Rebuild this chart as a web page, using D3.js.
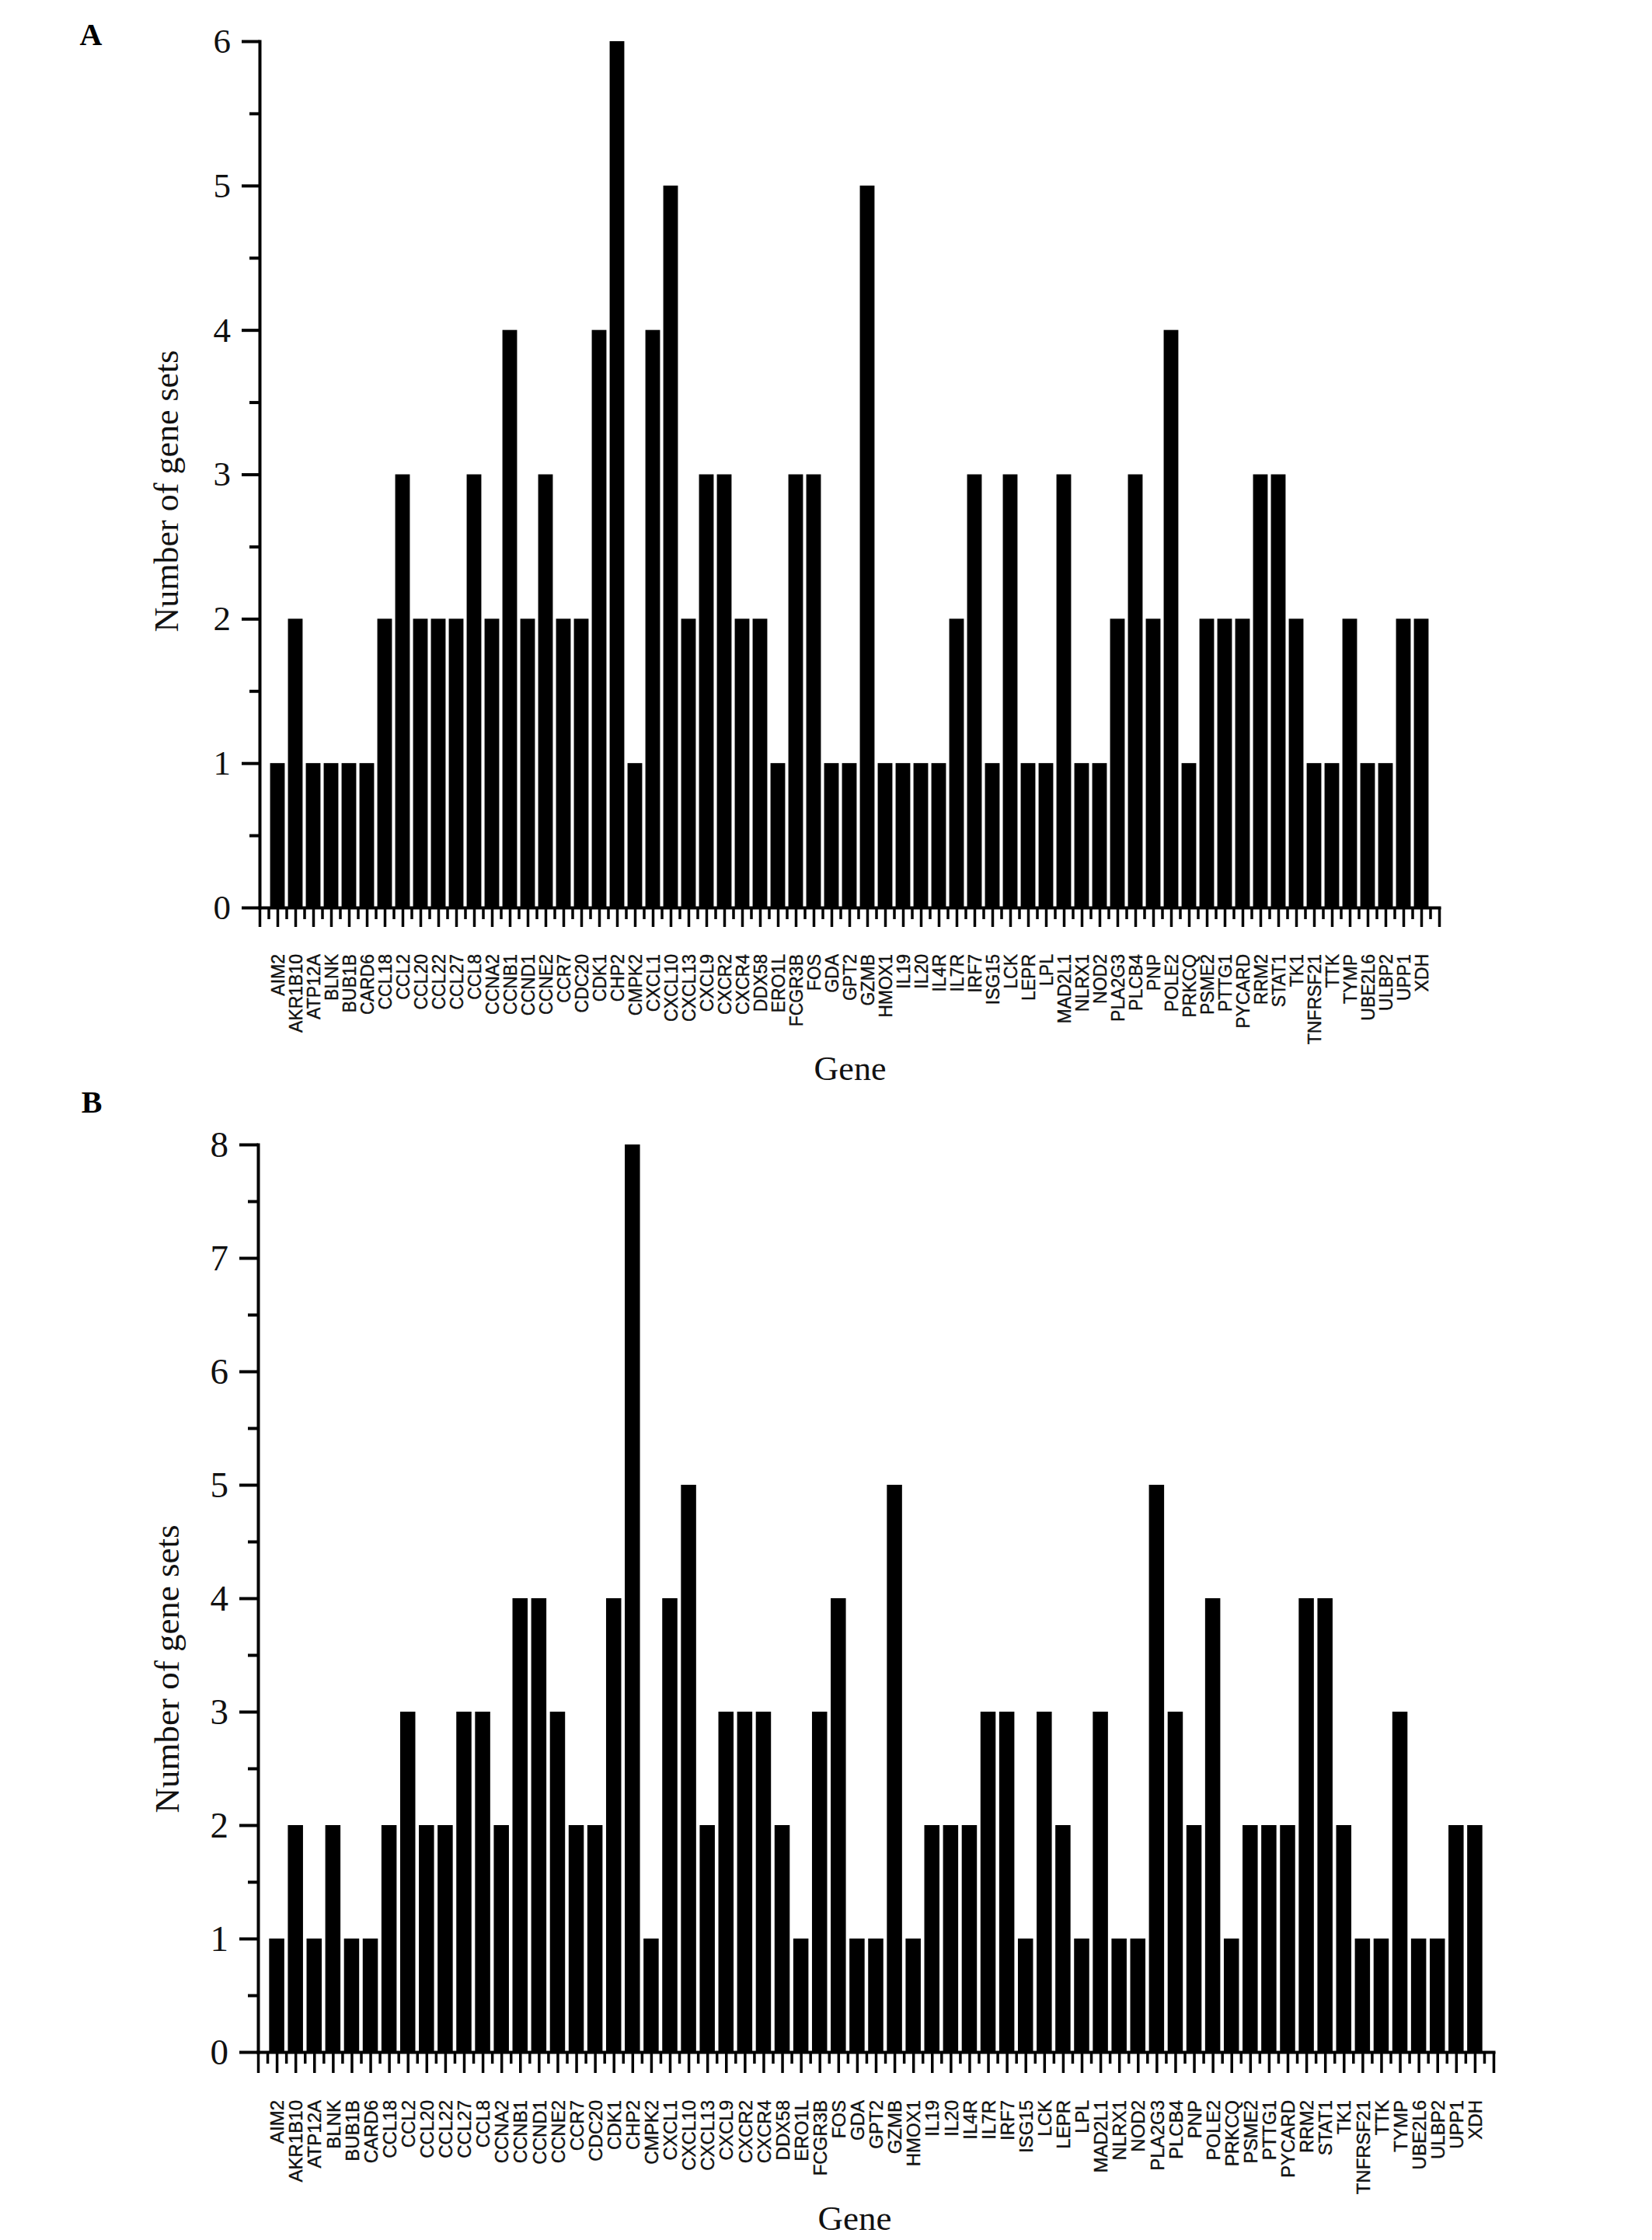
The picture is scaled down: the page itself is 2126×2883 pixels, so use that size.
<!DOCTYPE html>
<html>
<head>
<meta charset="utf-8">
<script src="https://cdn.jsdelivr.net/npm/d3@7"></script>
<style>
  html, body { margin: 0; padding: 0; background: #fff; }
  svg { display: block; }
</style>
</head>
<body>
<svg id="chart" width="2126" height="2883"></svg>
<script>
// ---------------- data ----------------
const genes = ["AIM2","AKR1B10","ATP12A","BLNK","BUB1B","CARD6","CCL18","CCL2","CCL20","CCL22",
  "CCL27","CCL8","CCNA2","CCNB1","CCND1","CCNE2","CCR7","CDC20","CDK1","CHP2",
  "CMPK2","CXCL1","CXCL10","CXCL13","CXCL9","CXCR2","CXCR4","DDX58","ERO1L","FCGR3B",
  "FOS","GDA","GPT2","GZMB","HMOX1","IL19","IL20","IL4R","IL7R","IRF7",
  "ISG15","LCK","LEPR","LPL","MAD2L1","NLRX1","NOD2","PLA2G3","PLCB4","PNP",
  "POLE2","PRKCQ","PSME2","PTTG1","PYCARD","RRM2","STAT1","TK1","TNFRSF21","TTK",
  "TYMP","UBE2L6","ULBP2","UPP1","XDH"];

const countsA = [1,2,1,1,1,1,2,3,2,2,
  2,3,2,4,2,3,2,2,4,6,
  1,4,5,2,3,3,2,2,1,3,
  3,1,1,5,1,1,1,1,2,3,
  1,3,1,1,3,1,1,2,3,2,
  4,1,2,2,2,3,3,2,1,1,
  2,1,1,2,2];

const countsB = [1,2,1,2,1,1,2,3,2,2,
  3,3,2,4,4,3,2,2,4,8,
  1,4,5,2,3,3,3,2,1,3,
  4,1,1,5,1,2,2,2,3,3,
  1,3,2,1,3,1,1,5,3,2,
  4,1,2,2,2,4,4,2,1,1,
  3,1,1,2,2];

const yTicksA = [0,1,2,3,4,5,6];
const yTicksB = [0,1,2,3,4,5,6,7,8];
const panelLabels = ["A","B"];
const xTitle = "Gene";
const yTitle = "Number of gene sets";

// ---------------- drawing ----------------
const svg = d3.select("#chart");
const serif = "'Liberation Serif','Times New Roman',Times,serif";
const sans = "'Liberation Sans',Arial,Helvetica,sans-serif";

function drawPanel(cfg) {
  const g = svg.append("g");
  const n = cfg.categories.length;

  const xLin = d3.scaleLinear().domain([0, n + 1]).range([cfg.x0, cfg.x1]);
  const xBand = d3.scaleBand().domain(cfg.categories)
    .range([xLin(0.5), xLin(n + 0.5)])
    .paddingInner(cfg.pad).paddingOuter(cfg.pad / 2);
  const yMax = cfg.yTicks[cfg.yTicks.length - 1];
  const y = d3.scaleLinear().domain([0, yMax]).range([cfg.yBot, cfg.yTop]);

  // bars
  g.append("g").selectAll("rect")
    .data(cfg.categories.map((c, i) => ({c, v: cfg.values[i]})))
    .join("rect")
    .attr("x", d => xBand(d.c))
    .attr("width", xBand.bandwidth())
    .attr("y", d => y(d.v))
    .attr("height", d => y(0) - y(d.v))
    .attr("fill", "#000");

  // x minor ticks
  const xMinor = d3.axisBottom(xLin)
    .tickValues(d3.range(0.5, n + 1, 1))
    .tickSize(cfg.xMinorLen).tickSizeOuter(0).tickFormat("");
  g.append("g").attr("transform", `translate(0,${cfg.yBot})`).call(xMinor)
    .call(s => s.select(".domain").remove())
    .call(s => s.selectAll("line").attr("stroke", "#000").attr("stroke-width", 3.5));

  // x major ticks with labels
  const xAxis = d3.axisBottom(xLin)
    .tickValues(d3.range(0, n + 2, 1))
    .tickSize(cfg.xMajorLen).tickSizeOuter(0)
    .tickFormat(d => (d >= 1 && d <= n) ? cfg.categories[d - 1] : "");
  const gx = g.append("g").attr("transform", `translate(0,${cfg.yBot})`).call(xAxis);
  gx.select(".domain").attr("stroke", "#000").attr("stroke-width", 4)
    .attr("stroke-linecap", "square");
  gx.selectAll("line").attr("stroke", "#000").attr("stroke-width", 3.5);
  gx.selectAll("text")
    .attr("transform", "rotate(-90)")
    .attr("text-anchor", "end")
    .attr("x", -cfg.labelOffset)
    .attr("y", 0)
    .attr("dy", "0.36em")
    .attr("font-family", sans)
    .attr("font-size", cfg.xLabelSize)
    .attr("fill", "#111")
    .attr("stroke", "#111").attr("stroke-width", 0.4);

  // y minor ticks
  const yMinor = d3.axisLeft(y)
    .tickValues(d3.range(0.5, yMax, 1))
    .tickSize(cfg.yMinorLen).tickSizeOuter(0).tickFormat("");
  g.append("g").attr("transform", `translate(${cfg.x0},0)`).call(yMinor)
    .call(s => s.select(".domain").remove())
    .call(s => s.selectAll("line").attr("stroke", "#000").attr("stroke-width", 4));

  // y major ticks
  const yAxis = d3.axisLeft(y).tickValues(cfg.yTicks)
    .tickSize(cfg.yMajorLen).tickSizeOuter(0).tickPadding(cfg.yPad)
    .tickFormat(d3.format("d"));
  const gy = g.append("g").attr("transform", `translate(${cfg.x0},0)`).call(yAxis);
  gy.select(".domain").attr("stroke", "#000").attr("stroke-width", 4)
    .attr("stroke-linecap", "square");
  gy.selectAll("line").attr("stroke", "#000").attr("stroke-width", 4);
  gy.selectAll("text")
    .attr("font-family", serif)
    .attr("font-size", cfg.yLabelSize)
    .attr("fill", "#111");

  // titles
  g.append("text")
    .attr("x", cfg.xTitleX).attr("y", cfg.xTitleY)
    .attr("text-anchor", "middle")
    .attr("font-family", serif).attr("font-size", cfg.titleSize)
    .attr("fill", "#111")
    .text(xTitle);
  g.append("text")
    .attr("transform", `translate(${cfg.yTitleX},${cfg.yTitleY}) rotate(-90)`)
    .attr("text-anchor", "middle")
    .attr("dy", "0.35em")
    .attr("font-family", serif).attr("font-size", cfg.titleSize)
    .attr("fill", "#111")
    .text(yTitle);

  // panel label
  g.append("text")
    .attr("x", cfg.panelX).attr("y", cfg.panelY)
    .attr("text-anchor", "middle")
    .attr("font-family", serif).attr("font-weight", "bold")
    .attr("font-size", 40)
    .attr("fill", "#000")
    .text(cfg.panel);
}

drawPanel({
  panel: panelLabels[0], categories: genes, values: countsA, yTicks: yTicksA,
  x0: 334, x1: 1852, yTop: 53, yBot: 1168, pad: 0.18,
  xMajorLen: 25, xMinorLen: 15, yMajorLen: 23, yMinorLen: 13, yPad: 14,
  labelOffset: 60, xLabelSize: 23, yLabelSize: 45, titleSize: 44,
  xTitleX: 1094, xTitleY: 1390, yTitleX: 214, yTitleY: 632,
  panelX: 117, panelY: 58
});

drawPanel({
  panel: panelLabels[1], categories: genes, values: countsB, yTicks: yTicksB,
  x0: 332, x1: 1922, yTop: 1473, yBot: 2641, pad: 0.19,
  xMajorLen: 27, xMinorLen: 15, yMajorLen: 24, yMinorLen: 13, yPad: 14,
  labelOffset: 62, xLabelSize: 24, yLabelSize: 47, titleSize: 45,
  xTitleX: 1100, xTitleY: 2870, yTitleX: 214, yTitleY: 2148,
  panelX: 118, panelY: 1432
});
</script>
</body>
</html>
